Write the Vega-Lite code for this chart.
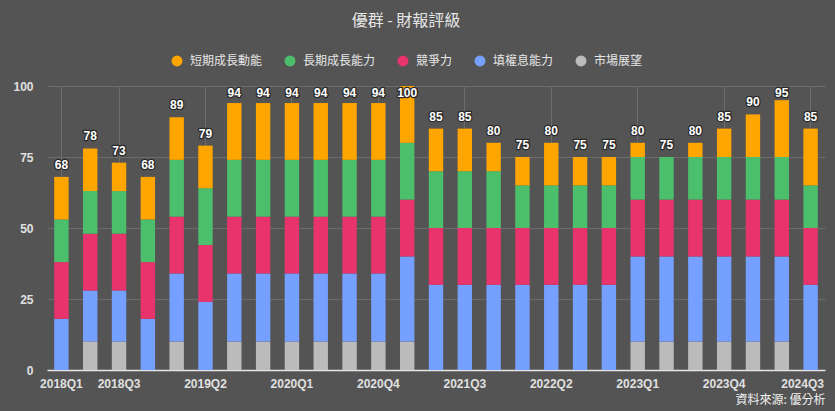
{
  "$schema": "https://vega.github.io/schema/vega-lite/v6.json",
  "autosize": {"type": "none"},
  "padding": {"left": 47, "top": 86, "right": 10, "bottom": 41},
  "width": 778,
  "height": 284,
  "background": "#545454",
  "title": {
    "text": "優群 - 財報評級",
    "anchor": "middle",
    "frame": "group",
    "dx": -30,
    "offset": 26,
    "font": "Noto Sans CJK TC",
    "fontSize": 16,
    "fontWeight": "normal",
    "color": "#e6e6e6"
  },
  "config": {
    "view": {"stroke": null},
    "axis": {"labelFont": "Liberation Sans", "labelFontWeight": "bold", "labelFontSize": 12, "labelColor": "#e0e0e0"}
  },
  "data": {
    "values": [
      {"q": "2018Q1", "短期成長動能": 15, "長期成長能力": 15, "競爭力": 20, "填權息能力": 18, "市場展望": 0},
      {"q": "2018Q2", "短期成長動能": 15, "長期成長能力": 15, "競爭力": 20, "填權息能力": 18, "市場展望": 10},
      {"q": "2018Q3", "短期成長動能": 10, "長期成長能力": 15, "競爭力": 20, "填權息能力": 18, "市場展望": 10},
      {"q": "2018Q4", "短期成長動能": 15, "長期成長能力": 15, "競爭力": 20, "填權息能力": 18, "市場展望": 0},
      {"q": "2019Q1", "短期成長動能": 15, "長期成長能力": 20, "競爭力": 20, "填權息能力": 24, "市場展望": 10},
      {"q": "2019Q2", "短期成長動能": 15, "長期成長能力": 20, "競爭力": 20, "填權息能力": 24, "市場展望": 0},
      {"q": "2019Q3", "短期成長動能": 20, "長期成長能力": 20, "競爭力": 20, "填權息能力": 24, "市場展望": 10},
      {"q": "2019Q4", "短期成長動能": 20, "長期成長能力": 20, "競爭力": 20, "填權息能力": 24, "市場展望": 10},
      {"q": "2020Q1", "短期成長動能": 20, "長期成長能力": 20, "競爭力": 20, "填權息能力": 24, "市場展望": 10},
      {"q": "2020Q2", "短期成長動能": 20, "長期成長能力": 20, "競爭力": 20, "填權息能力": 24, "市場展望": 10},
      {"q": "2020Q3", "短期成長動能": 20, "長期成長能力": 20, "競爭力": 20, "填權息能力": 24, "市場展望": 10},
      {"q": "2020Q4", "短期成長動能": 20, "長期成長能力": 20, "競爭力": 20, "填權息能力": 24, "市場展望": 10},
      {"q": "2021Q1", "短期成長動能": 20, "長期成長能力": 20, "競爭力": 20, "填權息能力": 30, "市場展望": 10},
      {"q": "2021Q2", "短期成長動能": 15, "長期成長能力": 20, "競爭力": 20, "填權息能力": 30, "市場展望": 0},
      {"q": "2021Q3", "短期成長動能": 15, "長期成長能力": 20, "競爭力": 20, "填權息能力": 30, "市場展望": 0},
      {"q": "2021Q4", "短期成長動能": 10, "長期成長能力": 20, "競爭力": 20, "填權息能力": 30, "市場展望": 0},
      {"q": "2022Q1", "短期成長動能": 10, "長期成長能力": 15, "競爭力": 20, "填權息能力": 30, "市場展望": 0},
      {"q": "2022Q2", "短期成長動能": 15, "長期成長能力": 15, "競爭力": 20, "填權息能力": 30, "市場展望": 0},
      {"q": "2022Q3", "短期成長動能": 10, "長期成長能力": 15, "競爭力": 20, "填權息能力": 30, "市場展望": 0},
      {"q": "2022Q4", "短期成長動能": 10, "長期成長能力": 15, "競爭力": 20, "填權息能力": 30, "市場展望": 0},
      {"q": "2023Q1", "短期成長動能": 5, "長期成長能力": 15, "競爭力": 20, "填權息能力": 30, "市場展望": 10},
      {"q": "2023Q2", "短期成長動能": 0, "長期成長能力": 15, "競爭力": 20, "填權息能力": 30, "市場展望": 10},
      {"q": "2023Q3", "短期成長動能": 5, "長期成長能力": 15, "競爭力": 20, "填權息能力": 30, "市場展望": 10},
      {"q": "2023Q4", "短期成長動能": 10, "長期成長能力": 15, "競爭力": 20, "填權息能力": 30, "市場展望": 10},
      {"q": "2024Q1", "短期成長動能": 15, "長期成長能力": 15, "競爭力": 20, "填權息能力": 30, "市場展望": 10},
      {"q": "2024Q2", "短期成長動能": 20, "長期成長能力": 15, "競爭力": 20, "填權息能力": 30, "市場展望": 10},
      {"q": "2024Q3", "短期成長動能": 20, "長期成長能力": 15, "競爭力": 20, "填權息能力": 30, "市場展望": 0}
    ]
  },
  "transform": [
    {"fold": ["市場展望", "填權息能力", "競爭力", "長期成長能力", "短期成長動能"], "as": ["category", "value"]},
    {"window": [{"op": "row_number", "as": "stackIdx"}], "groupby": ["q"]}
  ],
  "encoding": {
    "x": {
      "field": "q",
      "type": "ordinal",
      "sort": null,
      "scale": {"paddingInner": 0.5, "paddingOuter": 0.25},
      "axis": {
        "values": ["2018Q1", "2018Q3", "2019Q2", "2020Q1", "2020Q4", "2021Q3", "2022Q2", "2023Q1", "2023Q4", "2024Q3"],
        "labelAngle": 0,
        "labelPadding": 8,
        "labelOffset": {"condition": {"test": "datum.value == '2024Q3'", "value": -8}, "value": 0},
        "ticks": false,
        "grid": true,
        "gridColor": "#6c6c6c",
        "gridWidth": 1,
        "domainColor": "#e6e6e6",
        "domainWidth": 1.5,
        "title": "資料來源: 優分析",
        "titleFont": "Noto Sans CJK TC",
        "titleFontSize": 12,
        "titleFontWeight": "normal",
        "titleColor": "#f0f0f0",
        "titleAnchor": "end",
        "titlePadding": 5
      }
    }
  },
  "layer": [
    {
      "mark": {"type": "bar"},
      "encoding": {
        "y": {
          "field": "value",
          "type": "quantitative",
          "stack": "zero",
          "scale": {"domain": [0, 100], "nice": false},
          "axis": {
            "values": [0, 25, 50, 75, 100],
            "title": null,
            "domain": false,
            "ticks": false,
            "labelPadding": 14,
            "grid": true,
            "gridColor": "#6c6c6c",
            "gridWidth": 1
          }
        },
        "order": {"field": "stackIdx", "type": "quantitative", "sort": "ascending"},
        "color": {
          "field": "category",
          "type": "nominal",
          "scale": {
            "domain": ["短期成長動能", "長期成長能力", "競爭力", "填權息能力", "市場展望"],
            "range": ["#FFA500", "#4CBF6C", "#E8336C", "#76A0FF", "#BBBBBB"]
          },
          "legend": {
            "title": null,
            "orient": "none",
            "direction": "horizontal",
            "legendX": 124,
            "legendY": -31,
            "symbolType": "circle",
            "symbolSize": 120,
            "symbolStrokeWidth": 0,
            "labelFont": "Noto Sans CJK TC",
            "labelFontSize": 12,
            "labelColor": "#e6e6e6",
            "labelOffset": 7,
            "columnPadding": 21
          }
        }
      }
    },
    {
      "mark": {"type": "text", "font": "Liberation Sans", "fontWeight": "bold", "fontSize": 12, "baseline": "middle", "dy": 7, "fill": "#2a2a2a", "stroke": "#2a2a2a", "strokeWidth": 2.5, "strokeJoin": "round"},
      "encoding": {
        "y": {"aggregate": "sum", "field": "value", "type": "quantitative", "scale": {"domain": [-6.7, 93.3], "nice": false, "zero": false, "clamp": true}, "axis": null},
        "text": {"aggregate": "sum", "field": "value", "type": "quantitative"}
      }
    },
    {
      "mark": {"type": "text", "font": "Liberation Sans", "fontWeight": "bold", "fontSize": 12, "baseline": "middle", "dy": 7, "fill": "#ffffff"},
      "encoding": {
        "y": {"aggregate": "sum", "field": "value", "type": "quantitative", "scale": {"domain": [-6.7, 93.3], "nice": false, "zero": false, "clamp": true}, "axis": null},
        "text": {"aggregate": "sum", "field": "value", "type": "quantitative"}
      }
    }
  ],
  "resolve": {"scale": {"y": "independent"}}
}
